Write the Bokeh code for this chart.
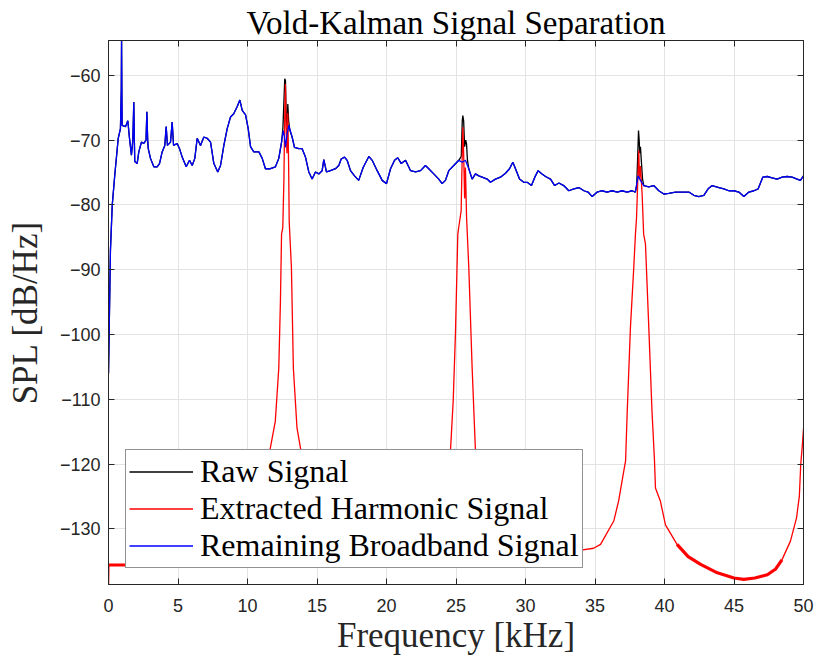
from bokeh.plotting import figure
from bokeh.models import Range1d, LinearAxis, FixedTicker, Legend, LegendItem, ColumnDataSource
from bokeh.embed import file_html
from bokeh.resources import INLINE

# ---------------- data ----------------
# Remaining broadband signal (blue)
bb_freq = [0.0, 0.14, 0.27, 0.45, 0.70, 0.86, 0.92, 0.94, 0.96, 0.98, 1.22, 1.39, 1.51, 1.65, 1.75,
           1.82, 1.86, 1.89, 2.06, 2.18, 2.37, 2.54, 2.70, 2.76, 2.82, 2.86, 3.02, 3.26, 3.5, 3.67,
           3.86, 4.05, 4.15, 4.24, 4.46, 4.58, 4.68, 4.94, 5.11, 5.30, 5.59, 5.83, 6.02, 6.21, 6.38,
           6.62, 6.86, 7.10, 7.34, 7.58, 7.86, 8.06, 8.30, 8.54, 8.78, 9.01, 9.26, 9.45, 9.62, 9.86,
           10.05, 10.22, 10.45, 10.82, 11.06, 11.29, 11.65, 12.01, 12.25, 12.45, 12.57, 12.66, 12.73,
           12.85, 12.97, 13.21, 13.38, 13.69, 13.93, 14.17, 14.41, 14.65, 14.89, 15.13, 15.37, 15.49,
           15.68, 15.97, 16.33, 16.57, 16.74, 16.98, 17.17, 17.41, 17.70, 18.0, 18.32, 18.73, 18.97,
           19.33, 19.69, 20.0, 20.29, 20.58, 20.81, 21.06, 21.37, 21.73, 22.09, 22.45, 22.8, 23.04,
           23.4, 23.76, 24.0, 24.24, 24.48, 24.84, 25.2, 25.45, 25.68, 25.92, 26.16, 26.4, 26.64,
           26.88, 27.24, 27.48, 27.84, 28.2, 28.56, 28.85, 29.09, 29.28, 29.57, 29.88, 30.12, 30.43,
           30.67, 30.91, 31.19, 31.44, 31.8, 32.1, 32.4, 32.75, 33.12, 33.48, 33.84, 34.2, 34.5, 34.8,
           35.16, 35.5, 35.87, 36.23, 36.6, 36.95, 37.3, 37.67, 37.9, 38.1, 38.27, 38.51, 38.87, 39.23,
           39.59, 39.95, 40.31, 40.79, 41.27, 41.75, 42.11, 42.47, 42.83, 43.14, 43.43, 43.91, 44.27,
           44.63, 44.99, 45.35, 45.71, 46.07, 46.43, 46.74, 47.07, 47.39, 47.74, 48.1, 48.46, 48.82,
           49.18, 49.54, 49.78, 50.0]
bb_db = [-106, -87, -80, -75.4, -69.7, -68.2, -62, -54.3, -62, -67.7, -67.9, -67.0, -69.7, -72.3, -70,
         -64.1, -70, -73.3, -73.6, -71.8, -70.3, -70.5, -70, -65.6, -70, -71.3, -72.8, -74.1, -74.1, -73.6,
         -71.8, -70.8, -67.9, -70.8, -70.3, -67.2, -70.8, -70.5, -71.3, -72.6, -74.1, -73.1, -73.9, -72.8, -69.7,
         -70.8, -69.5, -69.7, -70.3, -73.6, -74.9, -73.9, -70.8, -68.2, -66.4, -65.9, -64.8, -63.8, -65.4, -66.1,
         -68.2, -71.0, -71.8, -71.8, -72.8, -74.4, -74.4, -74.1, -72.8, -70.3, -68.5, -69.5, -71.1,
         -69, -67.7, -69.5, -71.1, -71.3, -71.3, -72.6, -74.9, -76.0, -74.9, -75.2, -74.7, -73.0,
         -74.9, -74.7, -74.4, -73.9, -72.9, -72.6, -73.1, -74.7, -75.5, -76.2, -74.2, -72.5, -73.1,
         -74.7, -76.2, -76.7, -74.4, -73.1, -72.7, -73.6, -73.1, -74.7, -74.9, -74.7, -73.9, -74.4,
         -75.2, -76.0, -76.7, -76.2, -74.7, -73.9, -73.1, -73.4, -73.1, -74.4, -76.0, -75.2, -75.5,
         -75.7, -76.0, -76.5, -76.0, -75.7, -75.1, -74.4, -73.4, -74.4, -76.0, -76.5, -76.5, -77.0,
         -75.7, -74.7, -75.2, -75.6, -76.0, -77.0, -76.6, -77.0, -77.8, -77.5, -77.3, -77.8, -78.0, -78.7,
         -78.0, -77.8, -78.0, -77.8, -78.0, -77.8, -78.0, -77.8, -78.0, -75.5, -76.2, -77.0, -77.2, -77.0,
         -77.8, -78.3, -78.2, -78.0, -78.0, -78.0, -78.5, -78.7, -78.5, -77.5, -77.0, -77.3, -77.5,
         -77.8, -77.8, -78.0, -78.7, -78.0, -77.8, -77.5, -75.7, -75.6, -75.8, -76.0, -75.7, -75.6,
         -75.7, -76.0, -76.2, -75.5]

# Extracted harmonic signal (red)
hm_freq = [0.0, 0.03, 5.0, 9.0, 10.5, 11.2, 11.6, 12.0, 12.25, 12.37, 12.45, 12.54, 12.62, 12.68, 12.73,
           12.78, 12.84, 12.9, 12.96, 13.0, 13.16, 13.3, 13.56, 13.85, 14.5, 16.0, 19.0, 22.0, 23.5, 24.3,
           24.6, 24.8, 24.96, 25.13, 25.2, 25.37, 25.45, 25.49, 25.55, 25.62, 25.68, 25.76, 25.92, 26.16,
           26.4, 26.8, 28.0, 31.0, 34.0, 34.9, 35.4, 36.35, 36.7, 37.07, 37.2, 37.32, 37.55, 37.79, 37.91,
           37.99, 38.08, 38.15, 38.2, 38.27, 38.39, 38.5, 38.63, 38.87, 39.1, 39.28, 39.35, 39.7, 40.07,
           40.9, 41.7, 42.6, 43.8, 45.0, 45.7, 46.5, 47.4, 48.0, 48.45, 49.06, 49.5, 49.7, 49.8, 49.92, 50.0]
hm_db = [-139.5, -135.6, -135.6, -135.5, -134, -128, -118.0, -113.4, -105.2, -94.8, -84.5, -83.5, -76, -66, -61.3,
         -68, -72, -65.8, -74, -82.5, -89.7, -105.2, -114.4, -118.0, -125, -130, -132, -129, -124, -120,
         -118, -110.2, -99.9, -84.5, -83.4, -80.9, -72, -68.0, -72, -79, -74.2, -81.9, -89.6, -105.1,
         -118, -123, -129, -132.5, -133.3, -133.0, -132.4, -128.8, -125.7, -121.1, -119.5, -111.8, -98.9, -89.6, -84.5,
         -81.9, -76, -71.6, -76, -74, -78.3, -84.5, -86.0, -98.9, -111.8, -119.5, -123.7, -125.7, -129.4,
         -132.4, -134.3, -135.5, -136.8, -137.6, -137.8, -137.6, -137.1, -136.2, -134.8, -131.9, -128.3, -125, -120.1, -117, -114.5]

# Raw signal (black): peaks that rise above the broadband curve
raw_peak_freq = [12.45, 12.55, 12.62, 12.68, 12.73, 12.78, 12.84, 12.9, 12.96, 13.05,
                 25.38, 25.45, 25.49, 25.55, 25.62, 25.7, 25.76, 25.82,
                 38.0, 38.08, 38.13, 38.18, 38.22, 38.27, 38.33, 38.42]
raw_peak_db = [-70.3, -68, -64, -60.5, -60.8, -66, -68, -64.4, -67, -68.5,
               -72.5, -67, -66.2, -67, -71, -70, -70.6, -73,
               -77, -72, -68.5, -70, -72, -71, -73.1, -76]
peak_windows = [(12.4, 13.1), (25.3, 25.85), (37.95, 38.45)]

x_ticks = [0, 5, 10, 15, 20, 25, 30, 35, 40, 45, 50]
y_ticks = [-130, -120, -110, -100, -90, -80, -70, -60]

# raw = broadband outside the peak windows + the peak readings
raw_pts = [(f, d) for f, d in zip(bb_freq, bb_db)
           if not any(a <= f <= b for a, b in peak_windows)]
raw_pts += list(zip(raw_peak_freq, raw_peak_db))
raw_pts.sort()
raw_freq = [f for f, _ in raw_pts]
raw_db = [d for _, d in raw_pts]

# ---------------- figure ----------------
AX = "#262626"
p = figure(width=817, height=657, output_backend="svg", toolbar_location=None,
           x_range=Range1d(0, 50), y_range=Range1d(-138.6, -54.6),
           min_border_left=108, min_border_right=14, min_border_top=40, min_border_bottom=73)
p.background_fill_color = "white"
p.border_fill_color = "white"
p.outline_line_color = AX
p.outline_line_width = 1

p.title.text = "Vold-Kalman Signal Separation"
p.title.align = "center"
p.title.text_font = "Liberation Serif"
p.title.text_font_style = "normal"
p.title.text_font_size = "33px"
p.title.text_color = "black"
p.title.standoff = 0

for ax in (p.xaxis[0], p.yaxis[0]):
    ax.axis_line_color = AX
    ax.major_tick_line_color = AX
    ax.major_tick_in = 6
    ax.major_tick_out = 0
    ax.minor_tick_line_color = None
    ax.major_label_text_font = "Liberation Sans"
    ax.major_label_text_font_size = "18px"
    ax.major_label_text_color = AX
    ax.axis_label_text_font = "Liberation Serif"
    ax.axis_label_text_font_style = "normal"
    ax.axis_label_text_font_size = "35px"
    ax.axis_label_text_color = AX

p.xaxis.ticker = FixedTicker(ticks=x_ticks)
p.yaxis.ticker = FixedTicker(ticks=y_ticks)
p.xaxis.axis_label = "Frequency [kHz]"
p.yaxis.axis_label = "SPL [dB/Hz]"
p.xaxis.major_label_standoff = 14
p.yaxis.major_label_standoff = 8
p.xaxis.axis_label_standoff = 1
p.yaxis.axis_label_standoff = 12

# box axes (top / right) with inward ticks, no labels
top = LinearAxis(ticker=FixedTicker(ticks=x_ticks))
right = LinearAxis(ticker=FixedTicker(ticks=y_ticks))
for ax in (top, right):
    ax.axis_line_color = AX
    ax.major_tick_line_color = AX
    ax.major_tick_in = 6
    ax.major_tick_out = 0
    ax.minor_tick_line_color = None
    ax.major_label_text_font_size = "0px"
    ax.major_label_standoff = 0
p.add_layout(top, "above")
p.add_layout(right, "right")

p.xgrid.ticker = FixedTicker(ticks=x_ticks)
p.ygrid.ticker = FixedTicker(ticks=y_ticks)
p.grid.grid_line_color = "#e3e3e3"
p.grid.grid_line_width = 1

src_raw = ColumnDataSource(dict(x=raw_freq, y=raw_db))
src_hm = ColumnDataSource(dict(x=hm_freq, y=hm_db))
src_bb = ColumnDataSource(dict(x=bb_freq, y=bb_db))

r_raw = p.line("x", "y", source=src_raw, line_color="black", line_width=1.3)
r_hm = p.line("x", "y", source=src_hm, line_color="#ff0000", line_width=1.3)
# broader red band where the harmonic estimate oscillates (flat floor / right bowl)
lo = [i for i, f in enumerate(hm_freq) if 0.03 <= f <= 11.0]
hi = [i for i, f in enumerate(hm_freq) if 40.5 <= f <= 48.6]
p.line([hm_freq[i] for i in lo], [hm_db[i] for i in lo], line_color="#ff0000", line_width=3)
p.line([hm_freq[i] for i in hi], [hm_db[i] for i in hi], line_color="#ff0000", line_width=3.2,
       line_join="round")
r_bb = p.line("x", "y", source=src_bb, line_color="#0000ff", line_width=1.3)

legend = Legend(items=[LegendItem(label="Raw Signal", renderers=[r_raw]),
                       LegendItem(label="Extracted Harmonic Signal", renderers=[r_hm]),
                       LegendItem(label="Remaining Broadband Signal", renderers=[r_bb])],
                location=(17, 16))
legend.label_text_font = "Liberation Serif"
legend.label_text_font_size = "32px"
legend.label_text_color = "black"
legend.glyph_width = 64
legend.glyph_height = 35
legend.label_height = 35
legend.label_standoff = 7
legend.spacing = 0
legend.padding = 3
legend.margin = 0
legend.border_line_color = AX
legend.border_line_width = 1
legend.background_fill_color = "white"
legend.background_fill_alpha = 1
p.add_layout(legend)

open("out.html", "w").write(file_html(p, INLINE))
